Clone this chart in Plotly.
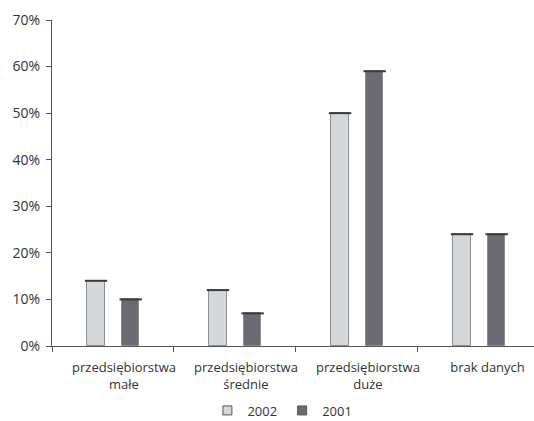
import plotly.graph_objects as go

categories = ["przedsiębiorstwa<br>małe", "przedsiębiorstwa<br>średnie", "przedsiębiorstwa<br>duże", "brak danych"]
series_names = ["2002", "2001"]
values_2002 = [14, 12, 50, 24]
values_2001 = [10, 7, 59, 24]
y_ticks = [0, 10, 20, 30, 40, 50, 60, 70]

colors = ["#d5d8db", "#6c6a72"]
idx = list(range(len(categories)))
x2002 = [i + 0.361 for i in idx]
x2001 = [i + 0.645 for i in idx]
bw = 0.142

fig = go.Figure()
fig.add_trace(go.Bar(x=x2002, y=values_2002, width=bw, name=series_names[0], showlegend=False,
                     marker=dict(color=colors[0], line=dict(color="#8e8e8e", width=1))))
fig.add_trace(go.Bar(x=x2001, y=values_2001, width=bw, name=series_names[1], showlegend=False,
                     marker=dict(color=colors[1], line=dict(color="#8e8e8e", width=1))))
# dark top edges
for xs, vs in ((x2002, values_2002), (x2001, values_2001)):
    fig.add_trace(go.Scatter(x=xs, y=vs, mode="markers", showlegend=False, hoverinfo="skip",
                             marker=dict(symbol="line-ew", size=16, line=dict(color="#3c3c40", width=2))))
# legend entries (small squares)
for name, c in zip(series_names, colors):
    fig.add_trace(go.Scatter(x=[None], y=[None], mode="markers", name=name,
                             marker=dict(symbol="square", size=9, color=c,
                                         line=dict(color="#555555", width=1))))

font = dict(family="Open Sans", size=13, color="#333333")
yfont = dict(family="Open Sans", size=14, color="#333333")
fig.update_layout(
    width=534, height=421,
    margin=dict(l=52, r=0, t=20, b=75, autoexpand=False),
    paper_bgcolor="white", plot_bgcolor="white",
    font=font, barmode="overlay", bargap=0,
    showlegend=True,
    legend=dict(orientation="h", x=0.478, xanchor="center", yref="container", y=0.025, yanchor="middle",
                font=font, itemwidth=30, traceorder="normal", tracegroupgap=0),
    xaxis=dict(range=[0, 3.951], showgrid=False, zeroline=False, automargin=False,
               showline=True, linecolor="#555555", linewidth=1,
               tickmode="array", tickvals=[0.59, 1.59, 2.59, 3.57], ticktext=categories,
               ticks="", tickfont=font, ticklabelstandoff=9,
               minor=dict(tickmode="array", tickvals=[0, 1, 2, 3], ticks="outside",
                          ticklen=5, tickcolor="#555555", tickwidth=1)),
    yaxis=dict(range=[0, 70], showgrid=False, zeroline=False, automargin=False,
               showline=True, linecolor="#555555", linewidth=1,
               tickmode="array", tickvals=y_ticks, ticktext=[f"{v}%" for v in y_ticks],
               ticks="outside", ticklen=5, tickcolor="#555555", tickfont=yfont,
               ticklabelstandoff=3),
)
fig.write_html("out.html", config={"displayModeBar": False},
               post_script="document.body.style.margin='0';document.body.style.overflow='hidden';")
